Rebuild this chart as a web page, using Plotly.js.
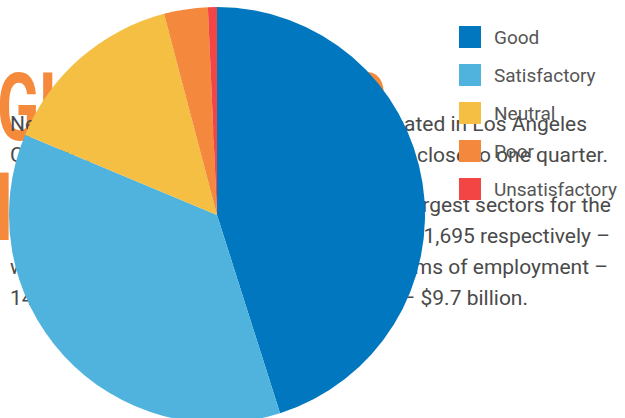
<!DOCTYPE html>
<html>
<head>
<meta charset="utf-8">
<script src="https://cdn.plot.ly/plotly-3.0.1.min.js"></script>
<style>
  html, body { margin:0; padding:0; width:625px; height:418px; overflow:hidden; background:#fff; }
  #bg { position:absolute; left:0; top:0; }
  #chart { position:absolute; left:0; top:0; width:625px; height:430px; }
</style>
</head>
<body>
<svg id="bg" width="625" height="418" xmlns="http://www.w3.org/2000/svg">
  <g fill="#f58a3c" font-family="Roboto" font-weight="700" font-size="94">
    <text transform="translate(-3,140) scale(0.66,1)">GLOBAL</text>
    <text transform="translate(386,140) scale(0.66,1)" text-anchor="end">S</text>
    <text transform="translate(-5,240) scale(0.66,1)">IS</text>
  </g>
  <g fill="#4a4a4a" font-family="Roboto" font-size="21">
    <text x="10" y="131">Nearly one in</text>
    <text x="10" y="162">County, with</text>
    <text x="10" y="212">In 2016, the</text>
    <text x="10" y="243">manufacturing</text>
    <text x="10" y="274">with the</text>
    <text x="10" y="305">14,000 jobs</text>
    <text x="587" y="131" text-anchor="end">is located in Los Angeles</text>
    <text x="608" y="162" text-anchor="end">the share is close to one quarter.</text>
    <text x="611" y="212" text-anchor="end">the two largest sectors for the</text>
    <text x="610" y="243" text-anchor="end">and 1,695 respectively –</text>
    <text x="608" y="274" text-anchor="end">the terms of employment –</text>
    <text x="528" y="305" text-anchor="end">output – $9.7 billion.</text>
  </g>
</svg>
<div id="chart"></div>
<script>
// ---- data ----
const labels = ['Good', 'Satisfactory', 'Neutral', 'Poor', 'Unsatisfactory'];
const values = [45.1, 36.2, 14.6, 3.4, 0.7];
const colors = ['#0077be', '#4fb3de', '#f4bf42', '#f4883c', '#f44545'];

// legend text: label placed on the 3rd of 4 small lines to get the tall row spacing
const legendLabels = labels.map(l =>
  '&nbsp;<br>&nbsp;<br><span style="font-size:19px">' + l + '</span><br>&nbsp;');

const trace = {
  type: 'pie',
  labels: legendLabels,
  values: values,
  sort: false,
  direction: 'clockwise',
  rotation: 0,
  textinfo: 'none',
  hoverinfo: 'none',
  marker: { colors: colors, line: { width: 0 } },
  domain: { x: [0, 416 / 616], y: [0, 1] }
};

const layout = {
  width: 625,
  height: 430,
  margin: { l: 9, r: 0, t: 7, b: 7, autoexpand: false },
  paper_bgcolor: 'rgba(0,0,0,0)',
  plot_bgcolor: 'rgba(0,0,0,0)',
  showlegend: true,
  legend: {
    x: (454 - 9) / 616,
    xanchor: 'left',
    y: 1 - (13 - 7) / 416,
    yanchor: 'top',
    bgcolor: 'rgba(0,0,0,0)',
    borderwidth: 0,
    font: { family: 'Roboto', size: 35 / 4 / 1.3, color: '#555555' }
  }
};

Plotly.newPlot('chart', [trace], layout, { displayModeBar: false, staticPlot: true }).then(gd => {
  gd.querySelectorAll('path.legendpie').forEach(p => {
    p.setAttribute('d', 'M11,11H-11V-11H11Z');
    p.setAttribute('transform', 'translate(16,0)');
  });
});
</script>
</body>
</html>
